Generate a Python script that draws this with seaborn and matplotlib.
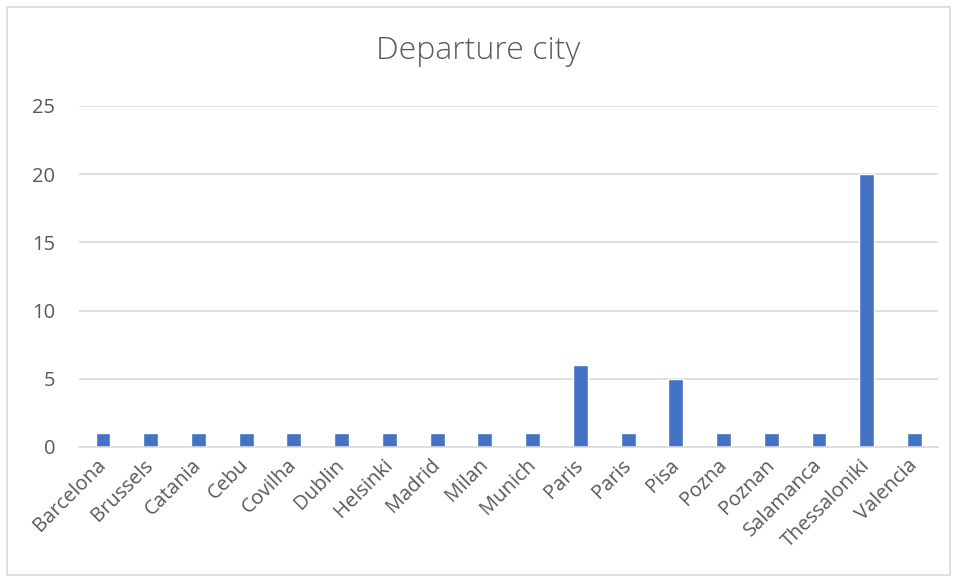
import numpy as np
import pandas as pd
import matplotlib
matplotlib.use("Agg")
import matplotlib.pyplot as plt
import seaborn as sns
from matplotlib.patches import Rectangle

# data (second Paris has a trailing space in the source)
cities = ["Barcelona", "Brussels", "Catania", "Cebu", "Covilha", "Dublin",
          "Helsinki", "Madrid", "Milan", "Munich", "Paris", "Paris ", "Pisa",
          "Pozna", "Poznan", "Salamanca", "Thessaloniki", "Valencia"]
counts = [1, 1, 1, 1, 1, 1, 1, 1, 1, 1, 6, 1, 5, 1, 1, 1, 20, 1]
yticks = [0, 5, 10, 15, 20, 25]

df = pd.DataFrame({"city": cities, "count": counts})

sns.set_style("white")
plt.rcParams["font.family"] = ["Open Sans", "DejaVu Sans"]
txt = "#595959"

fig = plt.figure(figsize=(9.57, 5.79), dpi=100)
ax = fig.add_axes([0.0826, 0.228, 0.898, 0.589])

sns.barplot(data=df, x="city", y="count", order=cities, color="#4472C4",
            width=0.31, saturation=1, ax=ax)

ax.set_ylim(0, 25)
ax.set_yticks(yticks)
ax.set_xlim(-0.5, len(cities) - 0.5)
ax.grid(axis="y", color="#d9d9d9", linewidth=1.2)
ax.set_axisbelow(True)
for s in ["top", "right", "left"]:
    ax.spines[s].set_visible(False)
ax.spines["bottom"].set_color("#d9d9d9")
ax.spines["bottom"].set_linewidth(1.2)
ax.tick_params(axis="both", length=0, labelsize=14.5, labelcolor=txt)
ax.tick_params(axis="y", pad=17)
ax.tick_params(axis="x", pad=11)
ax.set_xticks(range(len(cities)))
ax.set_xticklabels([c.strip() for c in cities], rotation=45, ha="right",
                   va="center", rotation_mode="anchor")
ax.set_xlabel("")
ax.set_ylabel("")

fig.text(0.5, 0.912, "Departure city", ha="center", va="center",
         fontsize=23, fontweight="light", color=txt)

fig.patches.append(Rectangle((0.007, 0.007), 0.986, 0.981,
                             transform=fig.transFigure, fill=False,
                             edgecolor="#d9d9d9", linewidth=1.2))

fig.savefig("out.png", dpi=100)
